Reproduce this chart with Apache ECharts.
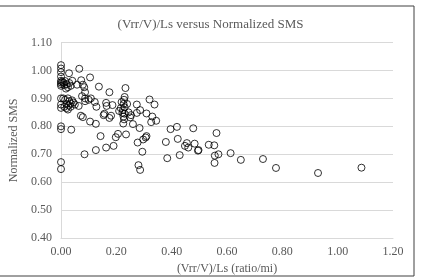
<!DOCTYPE html>
<html>
<head>
<meta charset="utf-8">
<script src="https://cdn.jsdelivr.net/npm/echarts@6/dist/echarts.min.js"></script>
<style>html,body{margin:0;padding:0;background:#fff;}#c{width:421px;height:280px;}</style>
</head>
<body>
<div id="c"></div>
<script>
const titleText = "(Vrr/V)/Ls versus Normalized SMS";
const xAxisName = "(Vrr/V)/Ls (ratio/mi)";
const yAxisName = "Normalized SMS";
const xValues = [
0,0,0,0,0,0,0,0,0,0,0,0,0,0,0,
0.005,0.01,0.012,0.015,0.02,0.025,0.018,0.03,0.035,
0.008,0.015,0.02,0.025,0.03,0.012,0.02,0.028,0.035,0.04,0.035,0.025,0.045,0.05,
0.029,0.041,0.058,0.066,0.073,0.079,0.084,0.087,0.105,0.137,0.175,0.233,
0.076,0.087,0.108,0.1,0.064,0.087,0.122,0.128,0.163,0.165,0.186,0.157,0.154,0.181,0.175,0.21,0.216,0.222,0.219,0.23,0.228,0.226,0.23,0.224,0.23,0.226,0.228,0.225,0.239,0.253,0.25,0.244,0.274,0.274,0.286,0.26,0.284,0.309,0.32,0.338,0.33,0.326,0.344,0.072,0.079,0.105,0.126,0.396,0.419,0.478,0.562,0.037,
0.143,0.198,0.206,0.235,0.277,0.297,0.306,0.309,0.379,0.422,0.448,0.455,0.46,0.483,0.495,0.497,0.534,0.554,0.556,0.569,0.555,0.613,0.65,0.73,0.777,0.929,1.086,0.085,0.126,0.163,0.19,0.294,0.384,0.429,0.28,0.286
];
const yValues = [
1.019,1.007,0.994,0.978,0.963,0.951,0.957,0.945,0.90,0.878,0.866,0.80,0.79,0.672,0.647,
0.96,0.955,0.948,0.962,0.95,0.94,0.935,0.955,0.945,
0.90,0.895,0.88,0.90,0.89,0.87,0.865,0.875,0.87,0.893,0.882,0.86,0.885,0.878,
0.99,0.963,0.949,1.006,0.965,0.949,0.94,0.922,0.975,0.942,0.922,0.937,
0.908,0.90,0.90,0.895,0.873,0.89,0.887,0.87,0.884,0.873,0.876,0.845,0.84,0.838,0.83,0.855,0.865,0.848,0.887,0.905,0.895,0.88,0.868,0.858,0.845,0.835,0.825,0.81,0.88,0.84,0.832,0.85,0.878,0.848,0.858,0.808,0.794,0.846,0.896,0.878,0.835,0.815,0.82,0.838,0.833,0.817,0.809,0.79,0.798,0.793,0.776,0.788,
0.765,0.761,0.773,0.771,0.742,0.753,0.76,0.765,0.744,0.755,0.73,0.74,0.724,0.738,0.713,0.715,0.734,0.732,0.695,0.70,0.669,0.704,0.68,0.683,0.651,0.633,0.652,0.70,0.715,0.724,0.73,0.709,0.686,0.697,0.661,0.644
];
const points = xValues.map((x, i) => [x, yValues[i]]);
const chart = echarts.init(document.getElementById('c'), null, {renderer: 'canvas'});
const font = '"Liberation Serif", "Times New Roman", serif';
const txt = '#595959';
chart.setOption({
  animation: false,
  backgroundColor: '#fff',
  textStyle: {fontFamily: font},
  title: {text: titleText, left: 'center', top: 13,
    textStyle: {fontFamily: font, fontSize: 13, fontWeight: 'normal', color: txt}},
  graphic: [{type: 'rect', shape: {x: -1, y: 6, width: 415, height: 270},
    style: {fill: 'none', stroke: '#404040', lineWidth: 1}, silent: true}],
  grid: {left: 50, right: 28, top: 42.5, bottom: 38, containLabel: false},
  xAxis: {type: 'value', min: 0, max: 1.2, interval: 0.2,
    name: xAxisName, nameLocation: 'middle', nameGap: 24,
    nameTextStyle: {fontFamily: font, fontSize: 12, color: txt},
    axisLine: {show: true, lineStyle: {color: '#d9d9d9'}},
    axisTick: {show: false},
    axisLabel: {fontFamily: font, fontSize: 12, color: txt, margin: 8, formatter: v => v.toFixed(2)},
    splitLine: {show: false}},
  yAxis: {type: 'value', min: 0.4, max: 1.1, interval: 0.1,
    name: yAxisName, nameLocation: 'middle', nameGap: 41,
    nameTextStyle: {fontFamily: font, fontSize: 12, color: txt},
    axisLine: {show: true, lineStyle: {color: '#d9d9d9'}},
    axisTick: {show: false},
    axisLabel: {fontFamily: font, fontSize: 12, color: txt, margin: 9, formatter: v => v.toFixed(2)},
    splitLine: {show: true, lineStyle: {color: '#d9d9d9', width: 1}}},
  series: [{type: 'scatter', data: points, symbol: 'circle', symbolSize: 7,
    itemStyle: {color: 'rgba(255,255,255,0)', borderColor: '#000', borderWidth: 1}}]
});
</script>
</body>
</html>
